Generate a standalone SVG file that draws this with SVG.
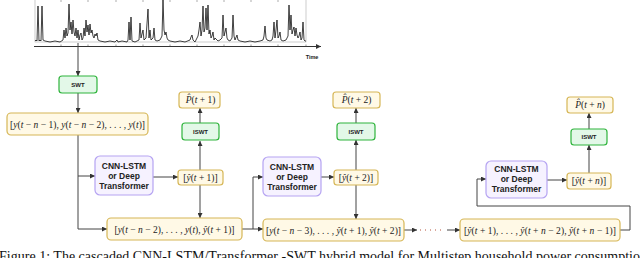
<svg xmlns="http://www.w3.org/2000/svg" width="640" height="258" viewBox="0 0 640 258">
<style>
.y{fill:#fff9e6;stroke:#d6b656;stroke-width:1.2}
.g{fill:#e3f8e8;stroke:#2fb43c;stroke-width:1.2}
.p{fill:#f6f2ff;stroke:#b5a3f2;stroke-width:1.2}
.c{fill:none;stroke:#444;stroke-width:1}
.m{font-family:"Liberation Serif",serif;font-size:9.5px;fill:#222}
.i{font-style:italic}
.s{font-family:"Liberation Sans",Arial,sans-serif;font-weight:bold;fill:#222}
</style>
<defs>
<marker id="a" viewBox="0 0 8 8" refX="8" refY="4" markerWidth="5" markerHeight="5" markerUnits="userSpaceOnUse" orient="auto"><path d="M0,0L8,4L0,8z" fill="#333"/></marker>
</defs>
<rect width="640" height="258" fill="#fff"/>
<g id="chart">
<rect x="35" y="-1" width="271" height="43" fill="none" stroke="#aaa" stroke-width="0.6"/>
<path d="M61,0v2M88,0v2M116,0v2M143,0v2M170,0v2M197,0v2M224,0v2M251,0v2M278,0v2" stroke="#777" stroke-width="0.6"/>
<path d="M35,41L36,40L37,41L38,6L39,41L40,40L41,41L42,6L43,40L45,41L50,42L55,41L60,42L63,40L64,30L65,38L66,28L67,36L68,33L69,4L70,30L71,22L72,34L73,20L74,32L75,36L76,28L77,38L78,30L79,40L80,35L81,33L82,40L83,38L84,28L85,36L86,20L87,32L88,25L89,35L90,24L91,33L92,30L93,36L94,38L95,34L96,36L97,33L98,40L100,41L105,42L110,41L115,42L117,40L118,42L122,41L127,42L128,40L129,22L130,40L131,17L132,41L135,42L139,40L140,23L141,38L142,34L143,30L144,40L146,38L148,9L149,38L150,30L151,40L153,38L154,28L155,40L157,41L160,40L162,36L163,0L164,30L165,35L166,32L167,38L168,40L170,41L175,42L180,41L185,42L190,40L191,37L192,35L193,40L195,42L197,38L198,36L199,30L200,22L201,36L202,30L203,6L204,32L205,28L206,8L207,30L208,5L209,34L210,30L211,38L212,36L213,32L214,40L215,38L218,41L220,40L222,38L223,15L224,36L225,32L226,28L227,38L228,40L230,41L232,38L233,15L234,36L235,40L237,35L238,40L240,41L245,42L250,41L255,42L260,41L263,40L264,36L265,26L266,38L267,40L270,41L272,40L273,36L274,22L275,38L276,30L277,20L278,38L279,36L280,32L281,40L283,41L286,40L288,36L289,5L290,30L291,15L292,34L293,30L294,27L295,36L296,28L297,35L298,38L299,36L300,32L301,40L302,38L303,22L304,40L305,41L306,41" fill="none" stroke="#111" stroke-width="0.8" stroke-linejoin="round"/>
<line x1="34" y1="46.5" x2="321" y2="46.5" stroke="#333" stroke-width="1" marker-end="url(#a)"/>
<path d="M61,46.5v-2M88,46.5v-2M116,46.5v-2M143,46.5v-2M170,46.5v-2M197,46.5v-2M224,46.5v-2M251,46.5v-2M278,46.5v-2M306,46.5v-2" stroke="#555" stroke-width="0.6"/>
<text x="312" y="59" class="s" font-size="5.5" text-anchor="middle" fill="#444">Time</text>
</g>
<g id="connectors">
<path class="c" d="M78,43V76" marker-end="url(#a)"/>
<path class="c" d="M78,93V113" marker-end="url(#a)"/>
<path class="c" d="M78,135V229H107" marker-end="url(#a)"/>
<path class="c" d="M78,176H95" marker-end="url(#a)"/>
<path class="c" d="M153,177H178" marker-end="url(#a)"/>
<path class="c" d="M200,170V141" marker-end="url(#a)"/>
<path class="c" d="M200,123V108" marker-end="url(#a)"/>
<path class="c" d="M200,185V218" marker-end="url(#a)"/>
<path class="c" d="M242,229H263" marker-end="url(#a)"/>
<path class="c" d="M253,229V177H263" marker-end="url(#a)"/>
<path class="c" d="M321,177H334" marker-end="url(#a)"/>
<path class="c" d="M356,170V140" marker-end="url(#a)"/>
<path class="c" d="M356,123V108" marker-end="url(#a)"/>
<path class="c" d="M356,185V219" marker-end="url(#a)"/>
<path class="c" d="M404,230H417" marker-end="url(#a)"/>
<path d="M420,230H444" stroke="#b5523b" stroke-width="1" stroke-dasharray="1,4"/>
<path class="c" d="M447,230H460" marker-end="url(#a)"/>
<path class="c" d="M620,230H630V206H477V179H486" marker-end="url(#a)"/>
<path class="c" d="M547,180H567" marker-end="url(#a)"/>
<path class="c" d="M589,173V145" marker-end="url(#a)"/>
<path class="c" d="M589,129V113" marker-end="url(#a)"/>
</g>
<g id="swt"><rect class="g" x="59" y="76" width="38" height="17" rx="3"/><text x="78" y="86.5" class="s" font-size="6" text-anchor="middle">SWT</text></g>
<g id="input1"><rect class="y" x="7" y="113" width="141" height="22" rx="4"/><text x="77.5" y="127.5" class="m" text-anchor="middle" textLength="135" lengthAdjust="spacing">[<tspan class="i">y</tspan>(<tspan class="i">t</tspan> − <tspan class="i">n</tspan> − 1), <tspan class="i">y</tspan>(<tspan class="i">t</tspan> − <tspan class="i">n</tspan> − 2), . . . , <tspan class="i">y</tspan>(<tspan class="i">t</tspan>)]</text></g>
<g id="model1"><rect class="p" x="95" y="156" width="58" height="39" rx="5"/><text class="s" font-size="8.5" text-anchor="middle"><tspan x="124" y="169">CNN-LSTM</tspan><tspan x="124" y="179">or Deep</tspan><tspan x="124" y="189">Transformer</tspan></text></g>
<g id="yhat1"><rect class="y" x="178" y="170" width="45" height="15" rx="3"/><text x="200.5" y="180.5" class="m" text-anchor="middle">[<tspan class="i">ŷ</tspan>(<tspan class="i">t</tspan> + 1)]</text></g>
<g id="iswt1"><rect class="g" x="182" y="123" width="37" height="17" rx="3"/><text x="200.5" y="133.5" class="s" font-size="6" text-anchor="middle">ISWT</text></g>
<g id="phat1"><rect class="y" x="179" y="92" width="41" height="16" rx="3"/><text x="200.5" y="103" class="m" text-anchor="middle"><tspan class="i">P̂</tspan>(<tspan class="i">t</tspan> + 1)</text></g>
<g id="input2"><rect class="y" x="107" y="218" width="135" height="22" rx="4"/><text x="174.5" y="232.5" class="m" text-anchor="middle" textLength="120" lengthAdjust="spacing">[<tspan class="i">y</tspan>(<tspan class="i">t</tspan> − <tspan class="i">n</tspan> − 2), . . . , <tspan class="i">y</tspan>(<tspan class="i">t</tspan>), <tspan class="i">ŷ</tspan>(<tspan class="i">t</tspan> + 1)]</text></g>
<g id="model2"><rect class="p" x="263" y="157" width="58" height="39" rx="5"/><text class="s" font-size="8.5" text-anchor="middle"><tspan x="292" y="170">CNN-LSTM</tspan><tspan x="292" y="180">or Deep</tspan><tspan x="292" y="190">Transformer</tspan></text></g>
<g id="yhat2"><rect class="y" x="334" y="170" width="44" height="15" rx="3"/><text x="356" y="180.5" class="m" text-anchor="middle">[<tspan class="i">ŷ</tspan>(<tspan class="i">t</tspan> + 2)]</text></g>
<g id="iswt2"><rect class="g" x="337" y="123" width="38" height="17" rx="3"/><text x="356" y="133.5" class="s" font-size="6" text-anchor="middle">ISWT</text></g>
<g id="phat2"><rect class="y" x="333" y="92" width="47" height="16" rx="3"/><text x="356.5" y="103" class="m" text-anchor="middle"><tspan class="i">P̂</tspan>(<tspan class="i">t</tspan> + 2)</text></g>
<g id="input3"><rect class="y" x="263" y="219" width="141" height="22" rx="4"/><text x="333.5" y="233.5" class="m" text-anchor="middle" textLength="135" lengthAdjust="spacing">[<tspan class="i">y</tspan>(<tspan class="i">t</tspan> − <tspan class="i">n</tspan> − 3), . . . , <tspan class="i">ŷ</tspan>(<tspan class="i">t</tspan> + 1), <tspan class="i">ŷ</tspan>(<tspan class="i">t</tspan> + 2)]</text></g>
<g id="input4"><rect class="y" x="460" y="219" width="160" height="22" rx="4"/><text x="540" y="233.5" class="m" text-anchor="middle" textLength="152" lengthAdjust="spacing">[<tspan class="i">ŷ</tspan>(<tspan class="i">t</tspan> + 1), . . . , <tspan class="i">ŷ</tspan>(<tspan class="i">t</tspan> + <tspan class="i">n</tspan> − 2), <tspan class="i">ŷ</tspan>(<tspan class="i">t</tspan> + <tspan class="i">n</tspan> − 1)]</text></g>
<g id="model3"><rect class="p" x="486" y="161" width="61" height="37" rx="5"/><text class="s" font-size="8.5" text-anchor="middle"><tspan x="516.5" y="172">CNN-LSTM</tspan><tspan x="516.5" y="182">or Deep</tspan><tspan x="516.5" y="192">Transformer</tspan></text></g>
<g id="yhat3"><rect class="y" x="567" y="173" width="44" height="16" rx="3"/><text x="589" y="184" class="m" text-anchor="middle">[<tspan class="i">ŷ</tspan>(<tspan class="i">t</tspan> + <tspan class="i">n</tspan>)]</text></g>
<g id="iswt3"><rect class="g" x="571" y="129" width="36" height="16" rx="3"/><text x="589" y="139" class="s" font-size="6" text-anchor="middle">ISWT</text></g>
<g id="phat3"><rect class="y" x="567" y="97" width="46" height="16" rx="3"/><text x="590" y="108" class="m" text-anchor="middle"><tspan class="i">P̂</tspan>(<tspan class="i">t</tspan> + <tspan class="i">n</tspan>)</text></g>
<text x="-1" y="260.5" font-family="Liberation Serif,serif" font-size="14" fill="#111" textLength="648" lengthAdjust="spacing">Figure 1: The cascaded CNN-LSTM/Transformer -SWT hybrid model for Multistep household power consumption</text>
</svg>
